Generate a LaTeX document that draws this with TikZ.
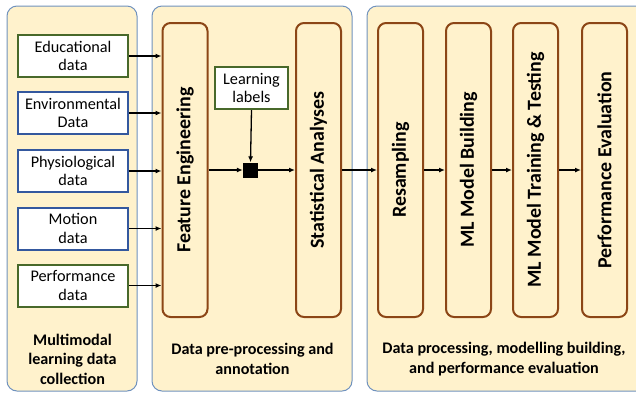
\documentclass[tikz,border=0pt]{standalone}
\usepackage{fontspec}
\setmainfont{Carlito}
\usepackage{graphicx}
\usepackage{tikz}
\usetikzlibrary{arrows.meta}
\definecolor{panelfill}{RGB}{255,242,204}
\definecolor{paneledge}{RGB}{112,146,190}
\definecolor{stepedge}{RGB}{140,70,22}
\definecolor{greenedge}{RGB}{72,105,42}
\definecolor{blueedge}{RGB}{52,88,158}
\tikzstyle{panel}=[draw=paneledge,fill=panelfill,line width=1bp,
                   rounded corners=10bp]
\tikzstyle{greenbox}=[draw=greenedge,fill=white,line width=2bp,
                      minimum width=110bp,minimum height=42bp,
                      inner sep=0pt,align=center,
                      font=\fontsize{16.3}{18.5}\selectfont]
\tikzstyle{bluebox}=[greenbox,draw=blueedge]
\tikzstyle{stepbox}=[draw=stepedge,fill=panelfill,line width=2bp,
                     rounded corners=8bp,inner sep=0pt,
                     minimum width=45bp,minimum height=294bp,
                     font=\bfseries\fontsize{20}{23}\selectfont]
\tikzstyle{caption}=[align=center,
                     font=\bfseries\fontsize{16.2}{19.5}\selectfont]
\tikzstyle{flow}=[line width=1.3bp,-{Latex[length=6bp,width=5bp]}]

\begin{document}
\begin{tikzpicture}[x=1bp,y=-1bp]
    \useasboundingbox (0,0) rectangle (636,393);
    % stage panels
    \draw[panel] (7,6) rectangle (137,391);
    \draw[panel] (152,6) rectangle (352,391);
    \begin{scope}
      \clip (0,0) rectangle (636,393);
      \draw[panel] (367,6) rectangle (680,391);
    \end{scope}
    % data sources
    \node (s1) at (73,56)    [greenbox]{Educational\\data};
    \node (s2) at (73,113)   [bluebox]{Environmental\\Data};
    \node (s3) at (73,171)   [bluebox]{Physiological\\data};
    \node (s4) at (73,228.5) [bluebox]{Motion\\data};
    \node (s5) at (73,285.5) [greenbox]{Performance\\data};
    % processing steps
    \node (fe)  at (185,170)   [stepbox]{\rotatebox{90}{Feature Engineering}};
    \node (sa)  at (318.5,170) [stepbox]{\rotatebox{90}{Statistical Analyses}};
    \node (rs)  at (400.5,170) [stepbox]{\rotatebox{90}{Resampling}};
    \node (mb)  at (468.5,170) [stepbox]{\rotatebox{90}{ML Model Building}};
    \node (mt)  at (535.5,170) [stepbox]{\rotatebox{90}{ML Model Training \& Testing}};
    \node (pe)  at (604.5,170) [stepbox]{\rotatebox{90}{Performance Evaluation}};
    \node (ll)  at (251.5,88)  [greenbox,minimum width=73bp]{Learning\\labels};
    \node (jn)  at (250.5,170) [fill=black,inner sep=0pt,minimum size=15bp]{};
    % captions
    \node (c1) at (72.5,359) [caption]{Multimodal\\learning data\\collection};
    \node (c2) at (252.5,359) [caption]{Data pre-processing and\\annotation};
    \node (c3) at (504,359) [caption]{Data processing, modelling building,\\and performance evaluation};
    % connectors
    \foreach \s in {s1,s2,s3,s4,s5}
      \draw[flow] (\s.east) -- (fe.west |- \s.east);
    \draw[flow] (fe.east |- jn) -- (jn.west);
    \draw[flow] (ll.south) -- (jn.north);
    \draw[flow] (jn.east) -- (sa.west |- jn);
    \draw[flow] (sa.east |- jn) -- (rs.west |- jn);
    \draw[flow] (rs.east |- jn) -- (mb.west |- jn);
    \draw[flow] (mb.east |- jn) -- (mt.west |- jn);
    \draw[flow] (mt.east |- jn) -- (pe.west |- jn);
  \end{tikzpicture}
\end{document}
